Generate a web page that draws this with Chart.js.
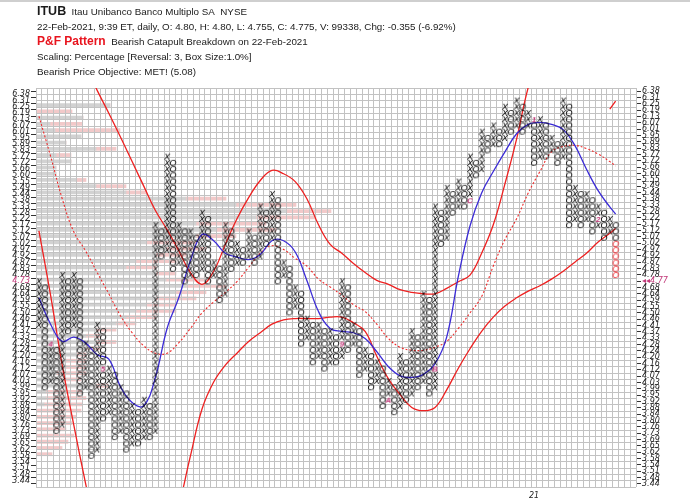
<!DOCTYPE html>
<html>
<head>
<meta charset="utf-8">
<script src="https://cdn.jsdelivr.net/npm/chart.js@4.4.1/dist/chart.umd.min.js"></script>
<style>
html,body{margin:0;padding:0;background:#fff;}
body{width:690px;height:504px;overflow:hidden;position:relative;font-family:"Liberation Sans",Arial,sans-serif;color:#1a1a1a;}
#chartbox{position:absolute;left:0;top:0;width:690px;height:504px;}
#topline{position:absolute;left:0;top:0;width:690px;height:2px;background:#cfcfcf;}
.t{position:absolute;white-space:nowrap;font-size:9.8px;line-height:12px;}
</style>
</head>
<body>
<div id="chartbox"><canvas id="c" width="690" height="504"></canvas></div>
<div id="topline"></div>
<div class="t" style="left:37px;top:5px"><b style="font-size:12.5px">ITUB</b>&nbsp; Itau Unibanco Banco Multiplo SA&nbsp; NYSE</div>
<div class="t" style="left:37px;top:21px">22-Feb-2021, 9:39 ET, daily, O: 4.80, H: 4.80, L: 4.755, C: 4.775, V: 99338, Chg: -0.355 (-6.92%)</div>
<div class="t" style="left:37px;top:35px"><b style="font-size:12px;color:#e8141e">P&amp;F Pattern</b>&nbsp; Bearish Catapult Breakdown on 22-Feb-2021</div>
<div class="t" style="left:37px;top:51px">Scaling: Percentage [Reversal: 3, Box Size:1.0%]</div>
<div class="t" style="left:37px;top:66px">Bearish Price Objective: MET! (5.08)</div>
<script>
// ---------- data ----------
const priceLevels = [6.38,6.31,6.25,6.19,6.13,6.07,6.01,5.95,5.89,5.83,5.77,5.72,5.66,5.60,5.55,5.49,5.44,5.38,5.33,5.28,
  5.22,5.17,5.12,5.07,5.02,4.97,4.92,4.87,4.83,4.78,4.73,4.68,4.64,4.59,4.55,4.50,4.46,4.41,4.37,4.33,
  4.28,4.24,4.20,4.16,4.12,4.07,4.03,3.99,3.95,3.92,3.88,3.84,3.80,3.76,3.73,3.69,3.65,3.62,3.58,3.54,
  3.51,3.48,3.44];
const totalColumns = 103;
const colTypes = 'XOXOXOXOXOXOXOXOXOXOXOXOXOXOXOXOXOXOXOXOXOXOXOXOXOXOXOXOXOXOXOXOXOXOXOXOXOXOXOXOXOXOXOXOXOXOXOXOXOXO';
const firstColBottom = 4.41;
// X column: highest box, O column: lowest box
const colExtreme = [4.73,3.99,4.28,3.73,4.78,4.37,4.78,3.95,4.28,3.58,
  4.41,3.80,4.12,3.69,3.99,3.62,3.88,3.65,3.92,3.69,
  5.17,4.92,5.77,4.83,5.17,4.73,5.12,4.78,5.28,4.73,
  4.87,4.59,5.17,4.83,5.02,4.87,5.12,4.87,5.33,5.02,
  5.44,4.73,4.87,4.50,4.68,4.28,4.46,4.16,4.41,4.12,
  4.37,4.16,4.73,4.24,4.41,4.07,4.24,3.99,4.16,3.88,
  4.03,3.84,4.20,3.92,4.37,3.99,4.64,3.95,5.33,5.02,
  5.49,5.28,5.55,5.33,5.77,5.60,6.01,5.83,6.07,5.89,
  6.25,6.01,6.31,6.01,6.19,5.72,6.13,5.77,5.95,5.72,
  6.31,5.17,5.49,5.17,5.44,5.12,5.33,5.07,5.22,4.78];
const todayFromPrice = 5.02;   // boxes of the last column added today (red)
const monthCols   = [2,    11,   52,   60,   68,   74,   85,   96];
const monthPrices = [4.28, 4.12, 4.28, 3.92, 4.12, 5.38, 6.13, 5.22];
const monthLabels = ['4',  '5',  '9',  'A',  'B',  'C',  '1',  '2'];
const yearCol = 85, yearLabel = '21';
const lastPriceRow = 30, lastPriceText = '4.77';

// volume at price (grey part, pink part) per box row, top to bottom
const volGrey = [0,0,74,0,47,14,19,45,30,60, 20,35,20,20,40,60,90,150,200,250,
  220,160,180,160,110,130,120,100,90,120, 130,150,140,120,110,100,90,80,60,50,
  60,50,40,30,30,20,25,60,10,10, 8,0,0,0,0,0,0,0,0,0, 0,0,0];
const volPink = [0,0,0,36,0,32,65,0,0,20, 15,0,0,0,10,30,20,40,60,45,
  60,70,60,40,50,40,30,40,30,20, 40,40,30,40,30,40,30,20,20,15,
  20,15,10,20,20,30,20,12,36,40, 38,45,40,36,30,38,32,26,16,0, 0,0,0];

// trend lines (price per column)
const lineCols = [0,2,4,6,8,10,12,14,16,18,20,22,24,26,28,30,32,34,36,38,40,42,44,46,48,50,52,54,56,58,60,62,64,66,68,70,72,74,76,78,80,82,84,86,88,90,92,94,96,98,99];
const maLine = [4.61,4.42,4.30,4.33,4.29,4.21,4.18,4.00,3.90,3.88,4.06,4.39,4.61,4.89,5.10,5.05,4.95,4.92,4.90,4.94,
  5.05,5.05,4.96,4.74,4.51,4.39,4.37,4.36,4.32,4.23,4.13,4.07,4.06,4.08,4.15,4.33,4.77,5.17,5.45,5.64,
  5.82,5.99,6.08,6.10,6.08,6.03,5.88,5.66,5.47,5.33,5.27];
const bandUpper = [null,null,null,6.91,6.67,6.42,6.19,5.96,5.73,5.51,5.30,5.14,4.97,4.80,4.71,4.81,5.02,5.23,5.41,5.56,
  5.65,5.62,5.55,5.40,5.18,5.02,4.95,4.87,4.80,4.74,4.71,4.67,4.65,4.64,4.64,4.68,4.73,4.78,4.95,5.18,
  5.53,5.94,6.45,6.81,null,null,null,null,null,6.23,6.31];
const bandMid = [6.16,5.78,5.40,5.12,4.97,4.80,4.64,4.48,4.36,4.27,4.22,4.22,4.29,4.39,4.50,4.58,4.65,4.73,4.84,4.95,
  5.01,4.98,4.91,4.85,4.75,4.69,4.63,4.56,4.51,4.42,4.32,4.26,4.24,4.24,4.26,4.30,4.39,4.50,4.62,4.85,
  5.06,5.23,5.45,5.64,5.82,5.87,5.88,5.85,5.80,5.73,5.69];
const bandLower = [5.13,4.63,4.14,3.76,3.43,3.15,2.98,2.88,2.84,2.86,2.95,3.08,3.30,3.58,3.86,4.03,4.14,4.22,4.30,4.36,
  4.42,4.45,4.46,4.46,4.46,4.47,4.47,4.43,4.37,4.20,4.05,3.95,3.87,3.85,3.87,3.98,4.12,4.25,4.37,4.47,
  4.55,4.61,4.66,4.70,4.75,4.81,4.88,4.95,5.04,5.11,5.15];

// ---------- build ----------
const TOP = priceLevels[0];
const rowOf = p => Math.log(TOP / p) / Math.log(1.01);
const rowIdx = p => priceLevels.indexOf(p);
const nRows = priceLevels.length;

function glyph(ch, color, font) {
  const c = document.createElement('canvas');
  c.width = 10; c.height = 10;
  const g = c.getContext('2d');
  g.font = font; g.fillStyle = color; g.textAlign = 'center'; g.textBaseline = 'middle';
  g.fillText(ch, 5, 5.5);
  return c;
}
const markFont = 'italic 9px "Liberation Sans"';
const gX = glyph('X', '#000', markFont);
const gO = glyph('O', '#000', markFont);
const gOred = glyph('O', '#ee1c24', markFont);
const monthColor = '#c23a7a';
const monthGlyphs = monthLabels.map(l => glyph(l, monthColor, 'italic bold 8px "Liberation Sans"'));

const monthKey = {};
monthCols.forEach((c, i) => { monthKey[c + ':' + rowIdx(monthPrices[i])] = i; });

const xPts = [], oPts = [], redPts = [], mPts = [];
let prevEnd = null;
const lastCol = colTypes.length - 1;
const redRow = rowIdx(todayFromPrice);
for (let c = 0; c < colTypes.length; c++) {
  const t = colTypes[c];
  const ext = rowIdx(colExtreme[c]);
  let from, to;
  if (c === 0) { from = ext; to = rowIdx(firstColBottom); }
  else if (t === 'X') { from = ext; to = prevEnd - 1; }
  else { from = prevEnd + 1; to = ext; }
  for (let r = from; r <= to; r++) {
    const k = c + ':' + r;
    if (k in monthKey) { mPts.push({x: c, y: r, g: monthGlyphs[monthKey[k]]}); continue; }
    if (t === 'X') xPts.push({x: c, y: r});
    else if (c === lastCol && r >= redRow) redPts.push({x: c, y: r});
    else oPts.push({x: c, y: r});
  }
  prevEnd = ext;
}

const lineData = arr => lineCols.map((c, i) => ({x: c, y: arr[i] == null ? null : rowOf(arr[i])}));
const greyBars = volGrey.map((v, i) => ({x: v, y: i}));
const pinkBars = volPink.map((v, i) => ({x: v, y: i}));

const halfTicks = n => { const a = []; for (let v = -0.5; v <= n - 0.5 + 1e-9; v += 1) a.push({value: v}); return a; };
const intTicks = n => { const a = []; for (let v = 0; v < n; v++) a.push({value: v}); return a; };

const gridColor = '#c2c2c2';
const tickFont = {family: '"DejaVu Sans"', size: 8, style: 'italic'};
const labelColor = ctx => ctx.tick && ctx.tick.value === lastPriceRow ? monthColor : '#222';

const gridOverBars = {
  id: 'gridOverBars',
  afterDatasetDraw(chart, args) {
    if (args.meta.type === 'bar') {
      chart.scales.x.drawGrid(chart.chartArea);
      chart.scales.yg.drawGrid(chart.chartArea);
    }
  }
};

new Chart(document.getElementById('c'), {
  type: 'scatter',
  data: {
    datasets: [
      {type: 'bar', indexAxis: 'y', stack: 'vol', data: greyBars, xAxisID: 'xv', yAxisID: 'y', backgroundColor: '#d2d2d2',
        borderWidth: 0, barPercentage: 1, categoryPercentage: 1, order: 20},
      {type: 'bar', indexAxis: 'y', stack: 'vol', data: pinkBars, xAxisID: 'xv', yAxisID: 'y', backgroundColor: '#f2c9c9',
        borderWidth: 0, barPercentage: 1, categoryPercentage: 1, order: 20},
      {type: 'line', data: lineData(bandMid), xAxisID: 'x', yAxisID: 'y', borderColor: '#ee2a2a', borderWidth: 1.1,
        borderDash: [2, 2], pointRadius: 0, tension: 0.4, spanGaps: false, order: 5},
      {type: 'line', data: lineData(bandUpper), xAxisID: 'x', yAxisID: 'y', borderColor: '#ee2020', borderWidth: 1.3,
        pointRadius: 0, tension: 0.4, spanGaps: false, order: 5},
      {type: 'line', data: lineData(bandLower), xAxisID: 'x', yAxisID: 'y', borderColor: '#ee2020', borderWidth: 1.3,
        pointRadius: 0, tension: 0.4, spanGaps: false, order: 5},
      {type: 'line', data: lineData(maLine), xAxisID: 'x', yAxisID: 'y', borderColor: '#3b2bd6', borderWidth: 1.3,
        pointRadius: 0, tension: 0.4, order: 4},
      {data: xPts, xAxisID: 'x', yAxisID: 'y', pointStyle: gX, pointRadius: 3, order: 1},
      {data: oPts, xAxisID: 'x', yAxisID: 'y', pointStyle: gO, pointRadius: 3, order: 1},
      {data: redPts, xAxisID: 'x', yAxisID: 'y', pointStyle: gOred, pointRadius: 3, order: 1},
      {data: mPts, xAxisID: 'x', yAxisID: 'y', pointStyle: ctx => ctx.raw ? ctx.raw.g : 'circle', pointRadius: 3, order: 1}
    ]
  },
  options: {
    responsive: false, animation: false, events: [],
    layout: {padding: {top: 88, left: 0, right: 0, bottom: 0}},
    plugins: {legend: {display: false}, tooltip: {enabled: false}},
    scales: {
      x: {type: 'linear', position: 'bottom', min: -0.5, max: totalColumns - 0.5,
        afterBuildTicks: s => { s.ticks = halfTicks(totalColumns); },
        ticks: {display: false}, grid: {color: gridColor, lineWidth: 1, drawTicks: false}, border: {display: false},
        afterFit: s => { s.height = 0; }},
      xl: {type: 'linear', position: 'bottom', min: -0.5, max: totalColumns - 0.5,
        afterBuildTicks: s => { s.ticks = [{value: yearCol}]; },
        ticks: {callback: () => yearLabel, font: {family: '"DejaVu Sans"', size: 8, style: 'italic'}, color: '#222', padding: -4, maxRotation: 0, autoSkip: false},
        grid: {display: false}, border: {display: false},
        afterFit: s => { s.height = 17; }},
      xv: {type: 'linear', display: false, min: 0, max: 600, stacked: true},
      yg: {type: 'linear', position: 'left', reverse: true, min: -0.5, max: nRows - 0.5,
        afterBuildTicks: s => { s.ticks = halfTicks(nRows); },
        ticks: {display: false}, grid: {color: gridColor, lineWidth: 1, drawTicks: false}, border: {display: false},
        afterFit: s => { s.width = 0; }},
      y: {type: 'linear', position: 'left', reverse: true, min: -0.5, max: nRows - 0.5,
        afterBuildTicks: s => { s.ticks = intTicks(nRows); },
        ticks: {callback: v => priceLevels[v] !== undefined ? priceLevels[v].toFixed(2) : '', font: tickFont, color: labelColor, padding: 1, autoSkip: false},
        grid: {drawOnChartArea: false, drawTicks: true, tickLength: 5, color: '#333'}, border: {display: false},
        afterFit: s => { s.width = 36; }},
      yr: {type: 'linear', position: 'right', reverse: true, min: -0.5, max: nRows - 0.5,
        afterBuildTicks: s => { s.ticks = intTicks(nRows); },
        ticks: {callback: v => v === lastPriceRow ? '\u25C2\u25C2' + lastPriceText : (priceLevels[v] !== undefined ? priceLevels[v].toFixed(2) : ''), font: tickFont, color: labelColor, padding: 1, autoSkip: false},
        grid: {drawOnChartArea: false, drawTicks: true, tickLength: 5, color: '#333'}, border: {display: false},
        afterFit: s => { s.width = 54; }}
    }
  },
  plugins: [gridOverBars]
});
</script>
</body>
</html>
